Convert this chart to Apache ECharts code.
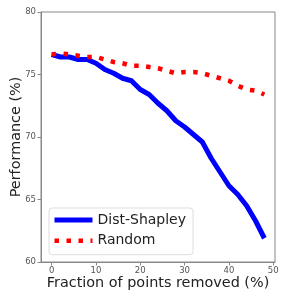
<!DOCTYPE html>
<html>
<head>
<meta charset="utf-8">
<script src="https://cdn.jsdelivr.net/npm/echarts@6/dist/echarts.min.js"></script>
<style>html,body{margin:0;padding:0;background:#fff}#c{width:291px;height:291px}</style>
</head>
<body>
<div id="c"></div>
<script>
const fractions = [0,2,4,6,8,10,12,14,16,18,20,22,24,26,28,30,32,34,36,38,40,42,44,46,48];
const distShapley = [76.6,76.4,76.4,76.2,76.2,75.9,75.4,75.1,74.7,74.5,73.8,73.4,72.7,72.1,71.3,70.8,70.2,69.6,68.3,67.2,66.1,65.4,64.5,63.3,61.9];
const randomVals = [76.6,76.7,76.6,76.5,76.4,76.4,76.2,76.0,75.9,75.7,75.7,75.6,75.5,75.3,75.1,75.2,75.2,75.1,74.9,74.7,74.5,74.1,73.8,73.7,73.4];
const xTicks = [0,10,20,30,40,50];
const yTicks = [60,65,70,75,80];
const seriesNames = ['Dist-Shapley','Random'];

const font = 'DejaVu Sans';
const chart = echarts.init(document.getElementById('c'), null, {renderer:'canvas'});
chart.setOption({
  animation:false,
  backgroundColor:'#fff',
  grid:{left:41,top:12,right:16,bottom:29,outerBoundsMode:'none',containLabel:false,show:true,borderColor:'#888',borderWidth:1,backgroundColor:'transparent'},
  xAxis:{
    type:'value',min:-2.4,max:50.4,
    name:'Fraction of points removed (%)',nameLocation:'middle',nameGap:14,nameMoveOverlap:false,
    nameTextStyle:{fontFamily:font,fontSize:14.4,color:'#222'},
    axisLine:{show:true,onZero:false,lineStyle:{color:'#888',width:1}},
    axisTick:{show:true,length:3.5,lineStyle:{color:'#888'},customValues:xTicks},
    axisLabel:{fontFamily:font,fontSize:8.5,color:'#555',margin:4,customValues:xTicks},
    splitLine:{show:false}
  },
  yAxis:{
    type:'value',min:60,max:80,interval:5,
    name:'Performance (%)',nameLocation:'middle',nameGap:18,nameMoveOverlap:false,
    nameTextStyle:{fontFamily:font,fontSize:14.4,color:'#222'},
    axisLine:{show:true,onZero:false,lineStyle:{color:'#888',width:1}},
    axisTick:{show:true,length:3.5,lineStyle:{color:'#888'}},
    axisLabel:{fontFamily:font,fontSize:8.5,color:'#555',margin:5},
    splitLine:{show:false}
  },
  legend:{
    orient:'vertical',left:49,top:208,
    padding:[5,7,7,3],itemGap:6.7,itemWidth:38,itemHeight:14,
    borderColor:'#ddd',borderWidth:1,borderRadius:3,backgroundColor:'rgba(255,255,255,0.8)',
    textStyle:{fontFamily:font,fontSize:14,color:'#222'},
    lineStyle:{width:'inherit',type:'inherit',color:'inherit'},
    itemStyle:{opacity:0},
    data:seriesNames
  },
  series:[
    {name:seriesNames[0],type:'line',data:fractions.map((x,i)=>[x,distShapley[i]]),
     symbol:'none',color:'#0000ff',lineStyle:{width:5,color:'#0000ff',join:'round'},z:3},
    {name:seriesNames[1],type:'line',data:fractions.map((x,i)=>[x,randomVals[i]]),
     symbol:'none',color:'#ff0000',lineStyle:{width:4.5,color:'#ff0000',type:[4.5,7.5],cap:'butt'},z:4}
  ]
});
</script>
</body>
</html>
